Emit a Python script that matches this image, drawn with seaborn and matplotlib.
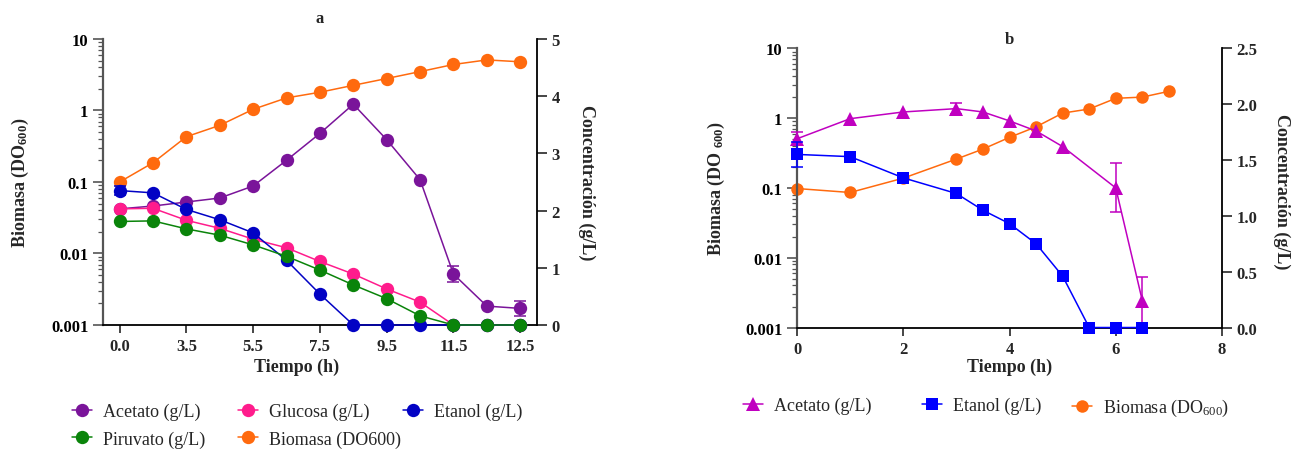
import matplotlib
matplotlib.use("Agg")
import matplotlib.pyplot as plt
import seaborn as sns
from matplotlib.ticker import LogLocator, NullFormatter, FixedLocator, FixedFormatter

sns.set_theme(style="ticks")
plt.rcParams["font.family"] = ["Liberation Serif", "DejaVu Serif"]
plt.rcParams["mathtext.fontset"] = "custom"
plt.rcParams["mathtext.rm"] = "Liberation Serif"
plt.rcParams["mathtext.bf"] = "Liberation Serif:bold"
plt.rcParams["mathtext.it"] = "Liberation Serif:italic"

# ---------------- Panel a: sampling points (evenly spaced on the axis) ----------------
a_points = list(range(13))
a_tick_pos = [0, 2, 4, 6, 8, 10, 12]
a_tick_labels = ["0.0", "3.5", "5.5", "7.5", "9.5", "11.5", "12.5"]

a_biomasa = [0.10, 0.186, 0.43, 0.62, 1.04, 1.5, 1.8, 2.25, 2.8, 3.5, 4.4, 5.1, 4.8]      # DO600
a_acetato = [2.03, 2.08, 2.15, 2.22, 2.43, 2.88, 3.35, 3.86, 3.24, 2.54, 0.89, 0.33, 0.29]  # g/L
a_acetato_err = [0, 0, 0, 0, 0, 0, 0, 0, 0, 0, 0.14, 0, 0.13]
a_glucosa = [2.03, 2.04, 1.83, 1.69, 1.50, 1.35, 1.11, 0.89, 0.63, 0.40, 0, 0, 0]
a_etanol = [2.35, 2.31, 2.02, 1.84, 1.61, 1.13, 0.54, 0, 0, 0, 0, 0, 0]
a_etanol_err = [0.08, 0, 0, 0, 0, 0, 0, 0, 0, 0, 0, 0, 0]
a_piruvato = [1.81, 1.82, 1.68, 1.57, 1.40, 1.20, 0.96, 0.70, 0.46, 0.16, 0, 0, 0]

# ---------------- Panel b ----------------
b_t_acetato = [0, 1, 2, 3, 3.5, 4, 4.5, 5, 6, 6.5]
b_acetato = [1.69, 1.87, 1.93, 1.96, 1.93, 1.85, 1.76, 1.62, 1.25, 0.24]
b_acetato_err = [0.06, 0, 0, 0.05, 0, 0, 0, 0, 0.22, 0.21]
b_t_etanol = [0, 1, 2, 3, 3.5, 4, 4.5, 5, 5.5, 6, 6.5]
b_etanol = [1.55, 1.53, 1.34, 1.20, 1.05, 0.93, 0.75, 0.46, 0, 0, 0]
b_etanol_err = [0.11, 0, 0, 0, 0, 0, 0, 0, 0, 0, 0]
b_t_biomasa = [0, 1, 2, 3, 3.5, 4, 4.5, 5, 5.5, 6, 6.5, 7]
b_biomasa = [0.098, 0.086, 0.138, 0.259, 0.36, 0.53, 0.75, 1.18, 1.35, 1.92, 2.0, 2.42]

log_ticks = [0.001, 0.01, 0.1, 1, 10]
log_tick_labels = ["0.001", "0.01", "0.1", "1", "10"]

C_PURPLE = "#7A149A"
C_PINK = "#FF1C8C"
C_BLUE = "#0202C4"
C_GREEN = "#0A840A"
C_ORANGE = "#FF6A0E"
C_MAGENTA = "#C000C0"
C_BBLUE = "#0000FF"

TICK_FS = 12
LABEL_FS = 13
LEG_FS = 13


def series(ax, x, y, color, marker, ms):
    sns.lineplot(x=x, y=y, ax=ax, color=color, marker=marker, markersize=ms,
                 markeredgewidth=0, linewidth=1.1, clip_on=False, legend=False,
                 errorbar=None, sort=False)
    return ax.lines[-1]


def errs(ax, x, y, e, color):
    xs = [xi for xi, ei in zip(x, e) if ei > 0]
    ys = [yi for yi, ei in zip(y, e) if ei > 0]
    es = [ei for ei in e if ei > 0]
    ax.errorbar(xs, ys, yerr=es, fmt="none", ecolor=color, elinewidth=1.1,
                capsize=4.5, capthick=1.1, clip_on=False)


def style_log_axis(ax):
    ax.set_yscale("log")
    ax.set_ylim(0.001, 10)
    ax.yaxis.set_major_locator(FixedLocator(log_ticks))
    ax.yaxis.set_major_formatter(FixedFormatter(log_tick_labels))
    ax.yaxis.set_minor_locator(LogLocator(base=10, subs=range(2, 10)))
    ax.yaxis.set_minor_formatter(NullFormatter())
    ax.tick_params(axis="y", which="major", direction="out", length=7, width=1.2,
                   labelsize=TICK_FS, colors="#555555", labelcolor="black")
    ax.tick_params(axis="y", which="minor", direction="out", length=3.5, width=0.9,
                   colors="#555555")
    ax.tick_params(axis="x", direction="out", length=6, width=1.2, labelsize=TICK_FS)
    ax.spines["top"].set_visible(False)
    ax.spines["right"].set_visible(False)
    ax.spines["left"].set_color("#555555")
    ax.spines["left"].set_linewidth(1.6)
    ax.spines["bottom"].set_color("black")
    ax.spines["bottom"].set_linewidth(1.3)
    for lab in ax.get_yticklabels() + ax.get_xticklabels():
        lab.set_fontweight("bold")


def style_conc_axis(ax):
    for s in ["top", "left", "bottom"]:
        ax.spines[s].set_visible(False)
    ax.spines["right"].set_color("black")
    ax.spines["right"].set_linewidth(1.3)
    ax.tick_params(axis="y", which="major", direction="out", length=7, width=1.2,
                   labelsize=TICK_FS)
    ax.tick_params(axis="y", which="minor", length=0)
    for lab in ax.get_yticklabels():
        lab.set_fontweight("bold")


fig = plt.figure(figsize=(13, 4.52), dpi=100)
fig.patch.set_facecolor("white")

# ===================== Panel a =====================
ax_a = fig.add_axes([0.0792, 0.2788, 0.3338, 0.6327])
ax_a.set_facecolor("white")
h_bio_a = series(ax_a, a_points, a_biomasa, C_ORANGE, "o", 9.6)
ax_a.set_xlim(-0.5, 12.5)
ax_a.set_xticks(a_tick_pos)
ax_a.set_xticklabels(a_tick_labels)
style_log_axis(ax_a)

ax_a2 = ax_a.twinx()
h_ace_a = series(ax_a2, a_points, a_acetato, C_PURPLE, "o", 9.6)
errs(ax_a2, a_points, a_acetato, a_acetato_err, C_PURPLE)
h_glu_a = series(ax_a2, a_points, a_glucosa, C_PINK, "o", 9.6)
h_eta_a = series(ax_a2, a_points, a_etanol, C_BLUE, "o", 9.6)
errs(ax_a2, a_points, a_etanol, a_etanol_err, C_BLUE)
h_pir_a = series(ax_a2, a_points, a_piruvato, C_GREEN, "o", 9.6)
ax_a2.set_ylim(0, 5)
ax_a2.set_yticks([0, 1, 2, 3, 4, 5])
ax_a2.set_yticklabels(["0", "1", "2", "3", "4", "5"])
style_conc_axis(ax_a2)

ax_a.set_title("a", fontweight="bold", fontsize=12, pad=12)
ax_a.set_xlabel("Tiempo (h)", fontweight="bold", fontsize=LABEL_FS)
ax_a.xaxis.label.set(va="center")
ax_a.xaxis.set_label_coords(0.447, -0.145)
ax_a.set_ylabel(r"Biomasa (DO$_{\mathbf{600}}$)", fontweight="bold", fontsize=LABEL_FS)
ax_a.yaxis.label.set(rotation_mode="default", ha="center", va="center")
ax_a.yaxis.set_label_coords(-0.191, 0.5)
ax_a2.set_ylabel("Concentración (g/L)", fontweight="bold", fontsize=LABEL_FS, rotation=270)
ax_a2.yaxis.label.set(rotation_mode="default", ha="center", va="center")
ax_a2.yaxis.set_label_coords(1.115, 0.5)

leg_kw = dict(loc="upper left", frameon=False, fontsize=LEG_FS, handlelength=1.1,
              handletextpad=0.6, labelspacing=0.55, borderpad=0, borderaxespad=0)
fig.legend([h_ace_a, h_pir_a], ["Acetato (g/L)", "Piruvato (g/L)"],
           bbox_to_anchor=(72 / 1300, 1 - 404 / 452), **leg_kw)
fig.legend([h_glu_a, h_bio_a], ["Glucosa (g/L)", "Biomasa (DO600)"],
           bbox_to_anchor=(238 / 1300, 1 - 404 / 452), **leg_kw)
fig.legend([h_eta_a], ["Etanol (g/L)"],
           bbox_to_anchor=(403 / 1300, 1 - 404 / 452), **leg_kw)

# ===================== Panel b =====================
ax_b = fig.add_axes([0.6131, 0.2732, 0.3269, 0.6177])
ax_b.set_facecolor("white")
h_bio_b = series(ax_b, b_t_biomasa, b_biomasa, C_ORANGE, "o", 9.0)
ax_b.set_xlim(0, 8)
ax_b.set_xticks([0, 2, 4, 6, 8])
ax_b.set_xticklabels(["0", "2", "4", "6", "8"])
style_log_axis(ax_b)

ax_b2 = ax_b.twinx()
h_ace_b = series(ax_b2, b_t_acetato, b_acetato, C_MAGENTA, "^", 9.6)
errs(ax_b2, b_t_acetato, b_acetato, b_acetato_err, C_MAGENTA)
h_eta_b = series(ax_b2, b_t_etanol, b_etanol, C_BBLUE, "s", 8.6)
errs(ax_b2, b_t_etanol, b_etanol, b_etanol_err, C_BBLUE)
ax_b2.set_ylim(0, 2.5)
ax_b2.set_yticks([0, 0.5, 1.0, 1.5, 2.0, 2.5])
ax_b2.set_yticklabels(["0.0", "0.5", "1.0", "1.5", "2.0", "2.5"])
style_conc_axis(ax_b2)

ax_b.set_title("b", fontweight="bold", fontsize=12, pad=4)
ax_b.set_xlabel("Tiempo (h)", fontweight="bold", fontsize=LABEL_FS)
ax_b.xaxis.label.set(va="center")
ax_b.xaxis.set_label_coords(0.5, -0.138)
ax_b.set_ylabel(r"Biomasa (DO $_{\mathbf{600}}$)", fontweight="bold", fontsize=LABEL_FS)
ax_b.yaxis.label.set(rotation_mode="default", ha="center", va="center")
ax_b.yaxis.set_label_coords(-0.19, 0.5)
ax_b2.set_ylabel("Concentración (g/L)", fontweight="bold", fontsize=LABEL_FS, rotation=270)
ax_b2.yaxis.label.set(rotation_mode="default", ha="center", va="center")
ax_b2.yaxis.set_label_coords(1.14, 0.49)

fig.legend([h_ace_b], ["Acetato (g/L)"], bbox_to_anchor=(743 / 1300, 1 - 398 / 452), **leg_kw)
fig.legend([h_eta_b], ["Etanol (g/L)"], bbox_to_anchor=(922 / 1300, 1 - 398 / 452), **leg_kw)
fig.legend([h_bio_b], [r"Biomasa (DO$_{600}$)"], bbox_to_anchor=(1072 / 1300, 1 - 398 / 452), **leg_kw)

fig.savefig("out.png", dpi=100, facecolor="white")
